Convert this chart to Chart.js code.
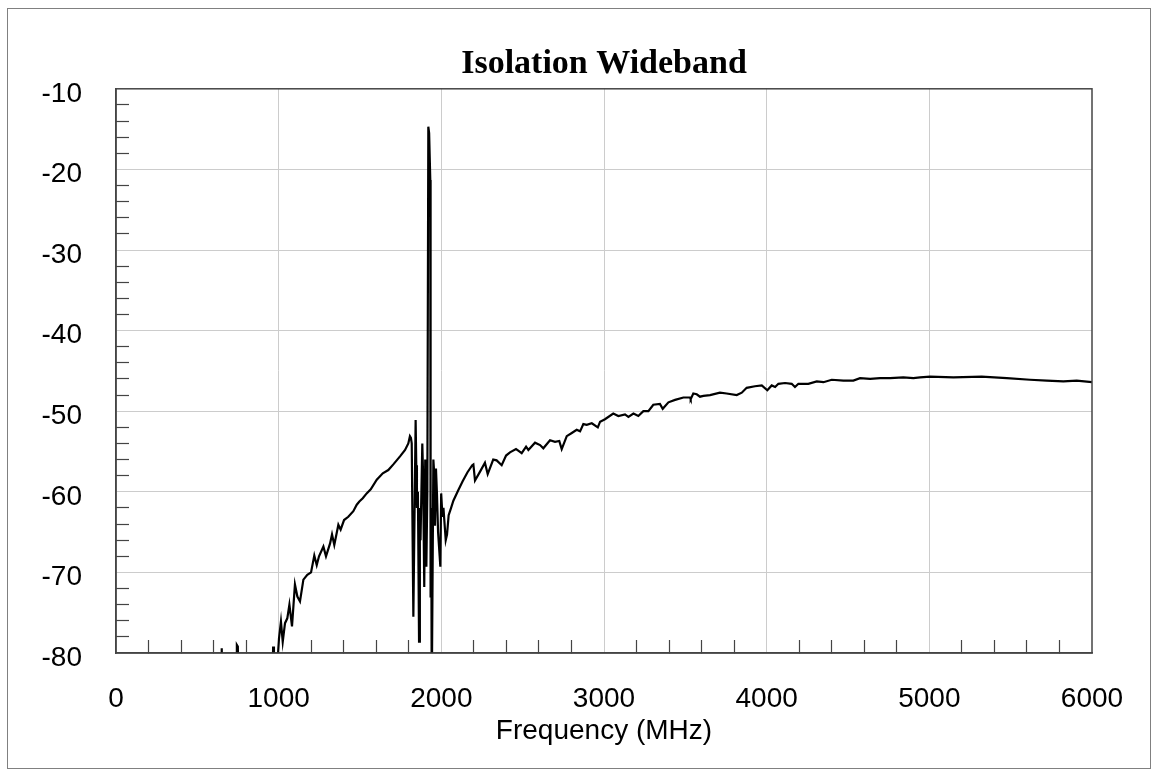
<!DOCTYPE html>
<html>
<head>
<meta charset="utf-8">
<title>Isolation Wideband</title>
<script src="https://cdn.jsdelivr.net/npm/chart.js@4.4.0/dist/chart.umd.min.js"></script>
<style>
  html, body { margin: 0; padding: 0; background: #fff; }
  #wrap { position: relative; width: 1158px; height: 776px; }
  #frame { position: absolute; left: 7px; top: 8px; width: 1144px; height: 761px; border: 1px solid #808080; box-sizing: border-box; }
  canvas { position: absolute; left: 0; top: 0; }
</style>
</head>
<body>
<div id="wrap">
  <div id="frame"></div>
  <canvas id="iso" width="1158" height="776"></canvas>
</div>
<script>
var freqMHz = [
    0, 300, 600, 646, 650, 654, 738, 743, 749, 753, 960, 966, 971, 990,
    1002, 1014, 1025, 1039, 1053, 1066, 1082, 1100, 1115, 1131, 1152, 1176, 1199,
    1219, 1234, 1248, 1275, 1291, 1316, 1328, 1342, 1367, 1381, 1402, 1428, 1459,
    1480, 1496, 1517, 1541, 1566, 1603, 1640, 1674, 1705, 1746, 1777, 1797, 1807,
    1813, 1818, 1828, 1842, 1846, 1850, 1856, 1863, 1868, 1872, 1883, 1888, 1895,
    1901, 1908, 1914, 1920, 1925, 1932, 1934, 1938, 1941, 1951, 1956, 1961, 1967,
    1973, 1980, 1994, 1999, 2007, 2013, 2027, 2035, 2045, 2060, 2074, 2104, 2131,
    2160, 2190, 2197, 2207, 2238, 2268, 2285, 2319, 2340, 2371, 2398, 2422, 2459,
    2473, 2494, 2521, 2535, 2576, 2607, 2627, 2668, 2699, 2725, 2740, 2771, 2802,
    2832, 2853, 2873, 2894, 2925, 2962, 2976, 3006, 3057, 3088, 3129, 3150, 3181,
    3211, 3242, 3273, 3303, 3344, 3361, 3396, 3437, 3488, 3529, 3533, 3549, 3570,
    3590, 3611, 3652, 3713, 3754, 3816, 3847, 3877, 3928, 3970, 4004, 4031, 4052,
    4072, 4113, 4154, 4174, 4195, 4256, 4308, 4349, 4400, 4472, 4533, 4574, 4636,
    4697, 4759, 4840, 4902, 4943, 5005, 5148, 5322, 5476, 5619, 5722, 5824, 5906, 6000
];
var isolationDb = [
    -92, -90, -86, -86, -79.4, -86, -86, -79.0, -79.2, -86, -86, -79.2, -85, -82,
    -78.2, -76.1, -78.6, -76.3, -75.7, -74.0, -76.7, -71.5, -73.0, -73.6, -70.9, -70.3, -70.0,
    -67.9, -69.1, -68.0, -66.8, -68.0, -66.4, -65.3, -66.6, -64.1, -64.7, -63.5, -63.1, -62.4,
    -61.6, -61.2, -60.8, -60.2, -59.7, -58.5, -57.7, -57.3, -56.6, -55.6, -54.8, -54.0, -53.1,
    -53.3, -54.0, -75.5, -51.1, -56.7, -62.0, -60.0, -78.6, -62.0, -66.0, -54.0, -58.0, -71.8,
    -56.0, -69.3, -60.0, -14.7, -15.5, -21.3, -73.1, -62.0, -86.0, -56.0, -57.6, -64.2, -57.1,
    -60.2, -65.0, -69.3, -60.2, -63.1, -62.0, -66.0, -65.3, -62.9, -62.0, -61.1, -59.8, -58.7,
    -57.6, -56.7, -56.6, -58.6, -57.5, -56.4, -57.8, -56.0, -56.1, -56.7, -55.5, -55.1, -54.7,
    -54.9, -55.2, -54.4, -54.8, -53.9, -54.2, -54.6, -53.6, -53.8, -53.7, -54.7, -53.1, -52.7,
    -52.3, -52.5, -51.6, -51.7, -51.5, -52.0, -51.3, -51.0, -50.3, -50.6, -50.4, -50.7, -50.3,
    -50.6, -50.0, -50.0, -49.2, -49.1, -49.7, -48.9, -48.6, -48.3, -48.3, -48.5, -47.8, -47.9,
    -48.2, -48.1, -48.0, -47.7, -47.8, -48.0, -47.7, -47.1, -46.9, -46.8, -47.4, -46.8, -47.0,
    -46.6, -46.5, -46.6, -47.0, -46.6, -46.6, -46.3, -46.4, -46.1, -46.2, -46.2, -45.9, -46.0,
    -45.9, -45.9, -45.8, -45.9, -45.8, -45.7, -45.8, -45.7, -45.9, -46.1, -46.2, -46.3, -46.2, -46.4
];

// axis ranges and tick spacing
var xMin = 0, xMax = 6000, xMajor = 1000, xMinor = 200;
var yMin = -80, yMax = -10, yMajor = 10, yMinor = 2;

var points = freqMHz.map(function (f, i) {
    return { x: f, y: isolationDb[i] };
});

var labelFont = { family: 'Liberation Sans', size: 28 };

// box around the plot area (top and right edges have no axis)
var plotFrame = {
    id: 'plotFrame',
    afterDraw: function (chart) {
        var a = chart.chartArea, c = chart.ctx;
        c.save();
        c.strokeStyle = '#444';
        c.lineWidth = 1.5;
        c.strokeRect(a.left, a.top, a.right - a.left, a.bottom - a.top);
        c.restore();
    }
};

var ctx = document.getElementById('iso').getContext('2d');
var chart = new Chart(ctx, {
    type: 'line',
    data: {
        datasets: [{
            label: 'Isolation',
            data: points,
            borderColor: '#000',
            borderWidth: 2.2,
            pointRadius: 0,
            tension: 0,
            fill: false
        }]
    },
    options: {
        responsive: false,
        animation: false,
        devicePixelRatio: 1,
        events: [],
        layout: { padding: { left: 0, right: 66, top: 0, bottom: 0 } },
        plugins: {
            legend: { display: false },
            tooltip: { enabled: false },
            title: {
                display: true,
                text: 'Isolation Wideband',
                color: '#000',
                fullSize: false,
                font: { family: 'Liberation Serif', size: 34, weight: 'bold' },
                padding: { top: 44, bottom: 4 }
            }
        },
        scales: {
            x: {
                type: 'linear',
                min: xMin,
                max: xMax,
                afterFit: function (s) {
                    s.height = 123;
                    s.paddingLeft = 0;
                    s.paddingRight = 0;
                },
                border: { color: '#444', width: 1.5 },
                grid: {
                    tickLength: -13,
                    tickWidth: 1.2,
                    color: function (c) {
                        var v = c.tick.value;
                        return (v % xMajor === 0 && v !== xMin && v !== xMax) ? '#cccccc' : 'transparent';
                    },
                    tickColor: function (c) {
                        return c.tick.value % xMajor === 0 ? 'transparent' : '#444';
                    }
                },
                ticks: {
                    stepSize: xMinor,
                    autoSkip: false,
                    maxRotation: 0,
                    padding: 42,
                    color: '#000',
                    font: labelFont,
                    callback: function (v) { return v % xMajor === 0 ? v : ''; }
                },
                title: {
                    display: true,
                    text: 'Frequency (MHz)',
                    color: '#000',
                    font: labelFont,
                    padding: { top: 0, bottom: 28 }
                }
            },
            y: {
                min: yMin,
                max: yMax,
                afterFit: function (s) { s.width = 116; },
                border: { color: '#444', width: 1.5 },
                grid: {
                    tickLength: -13,
                    tickWidth: 1.2,
                    color: function (c) {
                        var v = c.tick.value;
                        return (v % yMajor === 0 && v !== yMin && v !== yMax) ? '#cccccc' : 'transparent';
                    },
                    tickColor: function (c) {
                        return c.tick.value % yMajor === 0 ? 'transparent' : '#444';
                    }
                },
                ticks: {
                    stepSize: yMinor,
                    autoSkip: false,
                    padding: 47,
                    labelOffset: 5,
                    color: '#000',
                    font: labelFont,
                    callback: function (v) { return v % yMajor === 0 ? v : ''; }
                }
            }
        }
    },
    plugins: [plotFrame]
});
</script>
</body>
</html>
